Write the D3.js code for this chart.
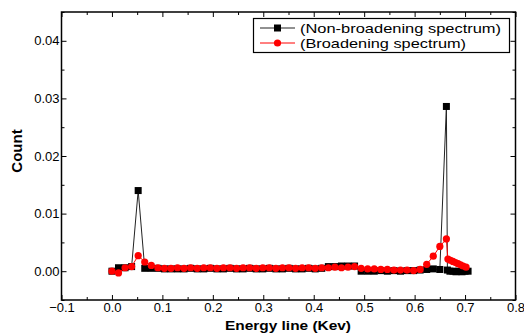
<!DOCTYPE html>
<html>
<head>
<meta charset="utf-8">
<script src="https://cdn.jsdelivr.net/npm/d3@7"></script>
<style>
  body { margin: 0; background: #fff; }
  text { font-family: "Liberation Sans", Arial, sans-serif; }
</style>
</head>
<body>
<div id="chart"></div>
<script>
// energy (Kev) and counts
const nonBroadX = [0, 0.013, 0.026, 0.039, 0.052, 0.065, 0.078, 0.091, 0.104, 0.117,
  0.130, 0.143, 0.156, 0.169, 0.182, 0.195, 0.208, 0.221, 0.234, 0.247,
  0.260, 0.273, 0.286, 0.299, 0.312, 0.325, 0.338, 0.351, 0.364, 0.377,
  0.390, 0.403, 0.416, 0.429, 0.442, 0.455, 0.468, 0.481, 0.494, 0.507,
  0.520, 0.533, 0.546, 0.559, 0.572, 0.585, 0.598, 0.611, 0.624, 0.637,
  0.650, 0.663, 0.665, 0.670, 0.676, 0.682, 0.688, 0.694, 0.700, 0.706];
const nonBroadY = [0.0000, 0.0006, 0.0006, 0.0008, 0.0140, 0.0005, 0.0005, 0.0005, 0.0004, 0.0004,
  0.0004, 0.0004, 0.0005, 0.0004, 0.0004, 0.0005, 0.0004, 0.0004, 0.0005, 0.0004,
  0.0004, 0.0005, 0.0004, 0.0004, 0.0005, 0.0004, 0.0004, 0.0005, 0.0004, 0.0004,
  0.0005, 0.0004, 0.0005, 0.0008, 0.0008, 0.0009, 0.0009, 0.0009, 0.0000, 0.0000,
  0.0000, 0.0001, 0.0000, 0.0001, 0.0000, 0.0001, 0.0001, 0.0002, 0.0003, 0.0004,
  0.0003, 0.0286, 0.0002, 0.0000, 0.0000, -0.0001, 0.0000, -0.0001, 0.0000, 0.0000];

const broadX = [0, 0.013, 0.026, 0.039, 0.052, 0.065, 0.078, 0.091, 0.104, 0.117,
  0.130, 0.143, 0.156, 0.169, 0.182, 0.195, 0.208, 0.221, 0.234, 0.247,
  0.260, 0.273, 0.286, 0.299, 0.312, 0.325, 0.338, 0.351, 0.364, 0.377,
  0.390, 0.403, 0.416, 0.429, 0.442, 0.455, 0.468, 0.481, 0.494, 0.507,
  0.520, 0.533, 0.546, 0.559, 0.572, 0.585, 0.598, 0.611, 0.624, 0.637,
  0.650, 0.663, 0.666, 0.671, 0.676, 0.681, 0.686, 0.691, 0.696, 0.702];
const broadY = [0.0000, -0.0003, 0.0006, 0.0008, 0.0027, 0.0016, 0.0010, 0.0006, 0.0005, 0.0005,
  0.0006, 0.0005, 0.0006, 0.0005, 0.0006, 0.0006, 0.0005, 0.0006, 0.0006, 0.0005,
  0.0006, 0.0006, 0.0005, 0.0006, 0.0006, 0.0005, 0.0006, 0.0006, 0.0005, 0.0006,
  0.0006, 0.0005, 0.0006, 0.0006, 0.0007, 0.0006, 0.0007, 0.0008, 0.0005, 0.0004,
  0.0004, 0.0003, 0.0003, 0.0002, 0.0002, 0.0002, 0.0001, 0.0003, 0.0012, 0.0026,
  0.0043, 0.0056, 0.0021, 0.0019, 0.0017, 0.0015, 0.0013, 0.0011, 0.0009, 0.0007];

const xTicks = [-0.1, 0.0, 0.1, 0.2, 0.3, 0.4, 0.5, 0.6, 0.7, 0.8];
const yTicks = [0.00, 0.01, 0.02, 0.03, 0.04];
const seriesNames = ['(Non-broadening spectrum)', '(Broadening spectrum)'];

const width = 524,
  height = 336;

const x = d3.scaleLinear().domain([-0.1, 0.8]).range([61.5, 515.5]);
const y = d3.scaleLinear().domain([-0.005, 0.045]).range([300, 12]);

const svg = d3.select('#chart')
  .append('svg')
  .attr('width', width)
  .attr('height', height);

// minor ticks halfway between the majors
const xMinor = xTicks.slice(0, -1).map(function(d) { return d + 0.05; });
const yMinor = [-0.005].concat(yTicks.map(function(d) { return d + 0.005; }));

function drawAxis(axis, tx, ty) {
  const g = svg.append('g')
    .attr('transform', 'translate(' + tx + ',' + ty + ')')
    .call(axis);
  g.select('.domain').remove();
  g.selectAll('line').attr('stroke', '#000');
  g.selectAll('text')
    .attr('fill', '#000')
    .style('font-size', '13px')
    .style('font-family', '"Liberation Sans", Arial, sans-serif');
  return g;
}

// bottom axis with labels
drawAxis(d3.axisBottom(x).tickValues(xTicks).tickSize(-5).tickPadding(3)
  .tickFormat(d3.format('.1f')), 0, 300);
drawAxis(d3.axisBottom(x).tickValues(xMinor).tickSize(-3).tickFormat(''), 0, 300);
// top axis, ticks only
drawAxis(d3.axisTop(x).tickValues(xTicks).tickSize(-5).tickFormat(''), 0, 12);
drawAxis(d3.axisTop(x).tickValues(xMinor).tickSize(-3).tickFormat(''), 0, 12);
// left axis with labels
drawAxis(d3.axisLeft(y).tickValues(yTicks).tickSize(-5).tickPadding(2)
  .tickFormat(d3.format('.2f')), 61.5, 0);
drawAxis(d3.axisLeft(y).tickValues(yMinor).tickSize(-3).tickFormat(''), 61.5, 0);
// right axis, ticks only
drawAxis(d3.axisRight(y).tickValues(yTicks).tickSize(-5).tickFormat(''), 515.5, 0);
drawAxis(d3.axisRight(y).tickValues(yMinor).tickSize(-3).tickFormat(''), 515.5, 0);

// frame
svg.append('rect')
  .attr('x', x(-0.1))
  .attr('y', y(0.045))
  .attr('width', x(0.8) - x(-0.1))
  .attr('height', y(-0.005) - y(0.045))
  .attr('fill', 'none')
  .attr('stroke', '#000')
  .attr('stroke-width', 1.5);

const nonBroad = nonBroadX.map(function(d, i) { return { x: d, y: nonBroadY[i] }; });
const broad = broadX.map(function(d, i) { return { x: d, y: broadY[i] }; });

const line = d3.line()
  .x(function(d) { return x(d.x); })
  .y(function(d) { return y(d.y); });

// non-broadening: black squares
svg.append('path')
  .datum(nonBroad)
  .attr('d', line)
  .attr('fill', 'none')
  .attr('stroke', '#222')
  .attr('stroke-width', 1);

svg.append('g').selectAll('rect')
  .data(nonBroad)
  .enter().append('rect')
  .attr('x', function(d) { return x(d.x) - 3.5; })
  .attr('y', function(d) { return y(d.y) - 3.5; })
  .attr('width', 7)
  .attr('height', 7)
  .attr('fill', '#000');

// broadening: red circles
svg.append('path')
  .datum(broad)
  .attr('d', line)
  .attr('fill', 'none')
  .attr('stroke', '#f00')
  .attr('stroke-width', 1);

svg.append('g').selectAll('circle')
  .data(broad)
  .enter().append('circle')
  .attr('cx', function(d) { return x(d.x); })
  .attr('cy', function(d) { return y(d.y); })
  .attr('r', 3.6)
  .attr('fill', '#f00');

// legend
const legend = svg.append('g');
legend.append('rect')
  .attr('x', 253.5)
  .attr('y', 18.5)
  .attr('width', 256)
  .attr('height', 34)
  .attr('fill', '#fff')
  .attr('stroke', '#000')
  .attr('stroke-width', 1.2);

const rows = legend.selectAll('g.row')
  .data(seriesNames)
  .enter().append('g')
  .attr('class', 'row')
  .attr('transform', function(d, i) { return 'translate(0,' + (28 + i * 15) + ')'; });

rows.append('line')
  .attr('x1', 260).attr('x2', 295)
  .attr('y1', 0).attr('y2', 0)
  .attr('stroke', function(d, i) { return i === 0 ? '#222' : '#f00'; })
  .attr('stroke-width', 1);

rows.filter(function(d, i) { return i === 0; })
  .append('rect')
  .attr('x', 274).attr('y', -3.5)
  .attr('width', 7).attr('height', 7)
  .attr('fill', '#000');

rows.filter(function(d, i) { return i === 1; })
  .append('circle')
  .attr('cx', 277.5).attr('cy', 0)
  .attr('r', 3.6)
  .attr('fill', '#f00');

rows.append('text')
  .attr('x', 300)
  .attr('y', 4.5)
  .attr('textLength', function(d, i) { return i === 0 ? 201 : 166; })
  .attr('lengthAdjust', 'spacingAndGlyphs')
  .style('font-size', '13.5px')
  .text(function(d) { return d; });

// axis titles
svg.append('text')
  .attr('x', 288)
  .attr('y', 329.5)
  .attr('text-anchor', 'middle')
  .attr('textLength', 126)
  .attr('lengthAdjust', 'spacingAndGlyphs')
  .style('font-size', '13.5px')
  .style('font-weight', 'bold')
  .text('Energy line (Kev)');

svg.append('text')
  .attr('transform', 'translate(22,151) rotate(-90)')
  .attr('text-anchor', 'middle')
  .style('font-size', '15px')
  .style('font-weight', 'bold')
  .text('Count');
</script>
</body>
</html>
